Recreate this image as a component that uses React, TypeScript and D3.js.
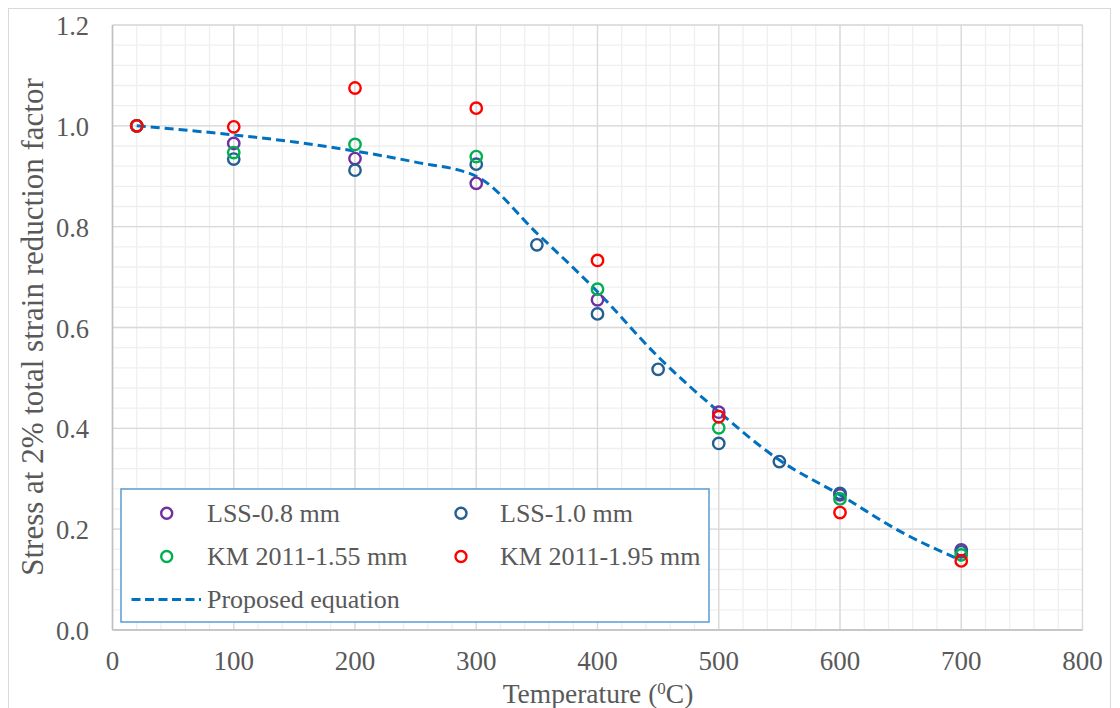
import React from "react";
import * as d3 from "d3";

// ---- data ----
const xTicks = [0, 100, 200, 300, 400, 500, 600, 700, 800];
const yTicks = [0, 0.2, 0.4, 0.6, 0.8, 1.0, 1.2];

const lss08Temps = [20, 100, 200, 300, 400, 500, 600, 700];
const lss08Vals = [1.0, 0.965, 0.935, 0.886, 0.655, 0.432, 0.268, 0.159];

const lss10Temps = [20, 100, 200, 300, 350, 400, 450, 500, 550, 600, 700];
const lss10Vals = [1.0, 0.934, 0.912, 0.924, 0.764, 0.627, 0.517, 0.37, 0.334, 0.271, 0.155];

const km155Temps = [20, 100, 200, 300, 400, 500, 600, 700];
const km155Vals = [1.0, 0.947, 0.963, 0.939, 0.676, 0.401, 0.26, 0.149];

const km195Temps = [20, 100, 200, 300, 400, 500, 600, 700];
const km195Vals = [1.0, 0.998, 1.075, 1.035, 0.733, 0.423, 0.233, 0.137];

const eqTemps = [20, 100, 150, 200, 250, 300, 350, 400, 450, 500, 550, 600, 650, 700];
const eqVals = [1.0, 0.982, 0.968, 0.95, 0.928, 0.9, 0.787, 0.671, 0.542, 0.433, 0.337, 0.268, 0.195, 0.138];

const seriesNames = ["LSS-0.8 mm", "LSS-1.0 mm", "KM 2011-1.55 mm", "KM 2011-1.95 mm"];
const seriesColors = ["#7030A0", "#255E91", "#00B050", "#FF0000"];
const eqName = "Proposed equation";
const eqColor = "#0070C0";

const FONT = "'Liberation Serif', 'Times New Roman', serif";
const TXT = "#595959";

export default function App() {
  const x = d3.scaleLinear().domain([0, 800]).range([112.5, 1082.5]);
  const y = d3.scaleLinear().domain([0, 1.2]).range([630, 25]);

  const minorX = d3.range(0, 801, 20);
  const minorY = d3.range(0, 1.2001, 0.04);

  const series = [
    { t: lss08Temps, v: lss08Vals },
    { t: lss10Temps, v: lss10Vals },
    { t: km155Temps, v: km155Vals },
    { t: km195Temps, v: km195Vals },
  ];

  const eqPts: [number, number][] = eqTemps.map((t, i) => [t, eqVals[i]]);
  const line = d3
    .line<[number, number]>()
    .x((d) => x(d[0]))
    .y((d) => y(d[1]))
    .curve(d3.curveMonotoneX);

  const legendRows = [
    { col: 0, row: 0, i: 0 },
    { col: 1, row: 0, i: 1 },
    { col: 0, row: 1, i: 2 },
    { col: 1, row: 1, i: 3 },
  ];
  const colMarkerX = [166.7, 461];
  const colTextX = [207, 500];
  const rowY = [513.3, 556.5];

  return (
    <svg
      width={1120}
      height={708}
      style={{ position: "absolute", left: 0, top: 0, background: "#fff" }}
      fontFamily={FONT}
    >
      <rect x={8.5} y={8.5} width={1102} height={720} fill="#fff" stroke="#d9d9d9" strokeWidth={1} />

      {/* minor grid */}
      {minorX.map((v) => (
        <line key={"mx" + v} x1={x(v)} x2={x(v)} y1={y(0)} y2={y(1.2)} stroke="#efefef" strokeWidth={1.3} />
      ))}
      {minorY.map((v, i) => (
        <line key={"my" + i} x1={x(0)} x2={x(800)} y1={y(v)} y2={y(v)} stroke="#efefef" strokeWidth={1.3} />
      ))}
      {/* major grid */}
      {xTicks.map((v) => (
        <line key={"gx" + v} x1={x(v)} x2={x(v)} y1={y(0)} y2={y(1.2)} stroke="#d9d9d9" strokeWidth={1.3} />
      ))}
      {yTicks.map((v) => (
        <line key={"gy" + v} x1={x(0)} x2={x(800)} y1={y(v)} y2={y(v)} stroke="#d9d9d9" strokeWidth={1.3} />
      ))}
      {/* axes */}
      <line x1={x(0)} x2={x(800)} y1={y(0)} y2={y(0)} stroke="#bfbfbf" strokeWidth={1.5} />
      <line x1={x(0)} x2={x(0)} y1={y(0)} y2={y(1.2)} stroke="#bfbfbf" strokeWidth={1.5} />

      {/* tick labels */}
      {xTicks.map((v) => (
        <text key={"tx" + v} x={x(v)} y={670} textAnchor="middle" fontSize={27} fill={TXT}>
          {v}
        </text>
      ))}
      {yTicks.map((v) => (
        <text key={"ty" + v} x={89} y={y(v) + 10} textAnchor="end" fontSize={26.5} fill={TXT}>
          {v.toFixed(1)}
        </text>
      ))}

      {/* axis titles */}
      <text x={598} y={703} textAnchor="middle" fontSize={27.5} fill={TXT}>
        Temperature (<tspan baselineShift="super" fontSize={17}>0</tspan>C)
      </text>
      <text
        transform={`translate(43, 327) rotate(-90)`}
        textAnchor="middle"
        fontSize={31}
        fill={TXT}
      >
        Stress at 2% total strain reduction factor
      </text>

      {/* proposed equation */}
      <path d={line(eqPts) || ""} fill="none" stroke={eqColor} strokeWidth={3} strokeDasharray="9 5" />

      {/* markers */}
      {series.map((s, si) =>
        s.t.map((t, i) => (
          <circle
            key={si + "-" + i}
            cx={x(t)}
            cy={y(s.v[i])}
            r={5.7}
            fill="none"
            stroke={seriesColors[si]}
            strokeWidth={2.4}
          />
        ))
      )}

      {/* legend */}
      <rect x={121} y={489} width={588} height={133} fill="#fff" stroke="#5B9BD5" strokeWidth={1.5} />
      {legendRows.map((r) => (
        <g key={"lg" + r.i}>
          <circle cx={colMarkerX[r.col]} cy={rowY[r.row]} r={5.5} fill="none" stroke={seriesColors[r.i]} strokeWidth={2.4} />
          <text x={colTextX[r.col]} y={rowY[r.row] + 8.5} fontSize={26} fill={TXT}>
            {seriesNames[r.i]}
          </text>
        </g>
      ))}
      <line x1={131.5} x2={201} y1={599.5} y2={599.5} stroke={eqColor} strokeWidth={3} strokeDasharray="9 4.5" />
      <text x={207} y={608} fontSize={26} fill={TXT}>
        {eqName}
      </text>
    </svg>
  );
}
